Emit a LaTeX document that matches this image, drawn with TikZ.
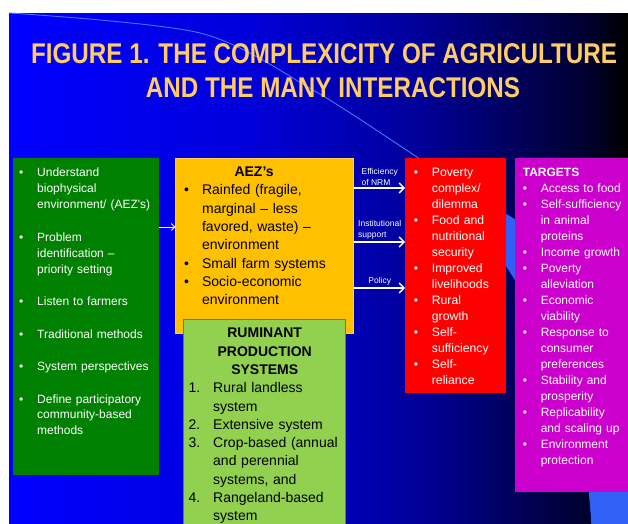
\documentclass[tikz,border=0pt]{standalone}
\usepackage{fontspec}
\setmainfont{Liberation Sans}
\newfontfamily\titlefont[FakeStretch=0.85]{Liberation Sans}
\usetikzlibrary{positioning}
\usetikzlibrary{arrows.meta}

\definecolor{titlegold}{RGB}{255,204,102}
\definecolor{swoosh}{RGB}{50,95,245}
\definecolor{swooshline}{RGB}{70,120,255}
\definecolor{methgreen}{RGB}{0,128,0}
\definecolor{aezgold}{RGB}{255,192,0}
\definecolor{aezedge}{RGB}{255,210,80}
\definecolor{rumgreen}{RGB}{146,208,80}
\definecolor{rumedge}{RGB}{0,176,80}
\definecolor{povred}{RGB}{255,0,0}
\definecolor{targmagenta}{RGB}{204,0,204}

% slide background, blue fading to black
\pgfdeclarehorizontalshading{deckshade}{100bp}{rgb(0bp)=(0,0,1); rgb(25bp)=(0,0,1); rgb(44bp)=(0,0,0.86); rgb(58bp)=(0,0,0.6); rgb(72bp)=(0,0,0.17); rgb(75bp)=(0,0,0); rgb(100bp)=(0,0,0)}

% list entries with a hanging bullet or number
\newcommand\bitem{\hangindent=18pt\hangafter=1\noindent\makebox[18pt][l]{\textbullet}\ignorespaces}
\newcommand\nitem[1]{\hangindent=24.5pt\hangafter=1\noindent\makebox[24.5pt][l]{#1}\ignorespaces}
% line break that keeps the hanging indent
\newcommand\nl{\newline}

\tikzset {
  title/.style = {
    inner sep = 0,
    anchor = base,
    text = titlegold,
    font = \titlefont\bfseries\fontsize{28.5}{34}\selectfont
  },
  % coloured boxes
  panel/.style = {
    inner sep = 0,
    anchor = north west
  },
  meth box/.style = {
    panel,
    fill = methgreen,
    minimum width = 146pt,
    minimum height = 317pt
  },
  aez box/.style = {
    panel,
    fill = aezgold,
    draw = aezedge,
    line width = 0.8pt,
    minimum width = 178pt,
    minimum height = 175pt
  },
  rum box/.style = {
    panel,
    fill = rumgreen,
    draw = rumedge,
    line width = 1.3pt,
    minimum width = 162pt,
    minimum height = 215pt
  },
  pov box/.style = {
    panel,
    fill = povred,
    minimum width = 101pt,
    minimum height = 235pt
  },
  targ box/.style = {
    panel,
    fill = targmagenta,
    minimum width = 115pt,
    minimum height = 334pt
  },
  % text set inside the boxes (lines are broken by hand)
  panel text/.style = {
    inner sep = 0
  },
  meth text/.style = {
    panel text,
    text width = 136pt,
    text = white,
    font = \fontsize{12}{15.9}\selectfont
  },
  aez text/.style = {
    panel text,
    text width = 152pt,
    text = black,
    font = \fontsize{14}{18.33}\selectfont
  },
  rum text/.style = {
    panel text,
    text width = 152pt,
    text = black,
    font = \fontsize{14}{18.3}\selectfont
  },
  pov text/.style = {
    panel text,
    text width = 90pt,
    text = white,
    font = \fontsize{12.2}{16}\selectfont
  },
  targ text/.style = {
    panel text,
    text width = 107pt,
    text = white,
    font = \fontsize{12}{16}\selectfont
  },
  % white arrows
  flow/.style = {
    draw = white,
    line width = 1.5pt,
    -{Straight Barb[length=5pt,width=10pt]}
  },
  thin flow/.style = {
    draw = white,
    line width = 0.9pt,
    -{Straight Barb[length=3.5pt,width=7pt]}
  },
  flow label/.style = {
    above = 2pt,
    inner sep = 0,
    align = left,
    text = white,
    font = \fontsize{8.5}{11}\selectfont
  }
}

\begin{document}
\begin{tikzpicture}[x=1pt, y=-1pt]
  \useasboundingbox (0,0) rectangle (628,523);
  \clip (0,0) rectangle (628,523);
  \fill[white] (0,0) rectangle (628,523);
  \shade[shading=deckshade] (9,13) rectangle (628,523);

  % template swoosh
  \fill[swoosh] (417,157) -- (513,218) -- (660,300) -- (660,540) -- (592,540)
    .. controls (588,420) and (555,300) .. (417,157) -- cycle;
  \draw[swooshline, line width=0.9pt] plot[smooth] coordinates {(9,13) (200,33) (313,90) (417,157) (470,192)};

  \node[title] (title1) at (324,63) {FIGURE 1. THE COMPLEXICITY OF AGRICULTURE};
  \node[title] (title2) at (333,97) {AND THE MANY INTERACTIONS};

  \node[meth box] (meth) at (13,158) {};
  \node[aez box] (aez) [right=16pt of meth.north east, anchor=north west] {};
  \node[rum box] (rum) at (183,319) {};
  \node[pov box] (pov) [right=51pt of aez.north east, anchor=north west] {};
  \node[targ box] (targ) [right=8pt of pov.north east, anchor=north west] {};

  \node[meth text] (methtxt) [below right=10pt and 6pt of meth.north west] {%
    \setlength{\parskip}{16.6pt}%
    \bitem Understand\nl biophysical\nl environment/ (AEZ\textquotesingle s)\par
    \bitem Problem\nl identification --\nl priority setting\par
    \bitem Listen to farmers\par
    \bitem Traditional methods\par
    \bitem System perspectives\par
    \bitem Define participatory\nl community-based\nl methods\par};

  \node[aez text] (aeztxt) [below right=8.8pt and 8.5pt of aez.north west] {%
    \makebox[140pt]{\bfseries AEZ’s}\par
    \bitem Rainfed (fragile,\nl marginal -- less\nl favored, waste) --\nl environment\par
    \bitem Small farm systems\par
    \bitem Socio-economic\nl environment\par};

  \node[rum text] (rumtxt) [below right=9pt and 5.5pt of rum.north west] {%
    {\centering\bfseries RUMINANT\\PRODUCTION\\SYSTEMS\par}
    \nitem{1.}Rural landless\nl system\par
    \nitem{2.}Extensive system\par
    \nitem{3.}Crop-based (annual\nl and perennial\nl systems, and\par
    \nitem{4.}Rangeland-based\nl system\par};

  \node[pov text] (povtxt) [below right=9.7pt and 8.5pt of pov.north west] {%
    \bitem Poverty\nl complex/\nl dilemma\par
    \bitem Food and\nl nutritional\nl security\par
    \bitem Improved\nl livelihoods\par
    \bitem Rural\nl growth\par
    \bitem Self-\nl sufficiency\par
    \bitem Self-\nl reliance\par};

  \node[targ text] (targtxt) [below right=9.7pt and 8pt of targ.north west] {%
    \textbf{TARGETS}\par
    \bitem Access to food\par
    \bitem Self-sufficiency\nl in animal\nl proteins\par
    \bitem Income growth\par
    \bitem Poverty\nl alleviation\par
    \bitem Economic\nl viability\par
    \bitem Response to\nl consumer\nl preferences\par
    \bitem Stability and\nl prosperity\par
    \bitem Replicability\nl and scaling up\par
    \bitem Environment\nl protection\par};

  % arrow heights
  \coordinate (aezin) at (0,227);
  \coordinate (nrm) at (0,188);
  \coordinate (inst) at (0,242);
  \coordinate (pol) at (0,288);

  \draw[thin flow] (meth.east |- aezin) -- (aez.west |- aezin);
  \draw[flow] (aez.east |- nrm) -- node[flow label] {Efficiency\\of NRM} (pov.west |- nrm);
  \draw[flow] (aez.east |- inst) -- node[flow label] {Institutional\\support} (pov.west |- inst);
  \draw[flow] (aez.east |- pol) -- node[flow label] {Policy} (pov.west |- pol);
\end{tikzpicture}
\end{document}
